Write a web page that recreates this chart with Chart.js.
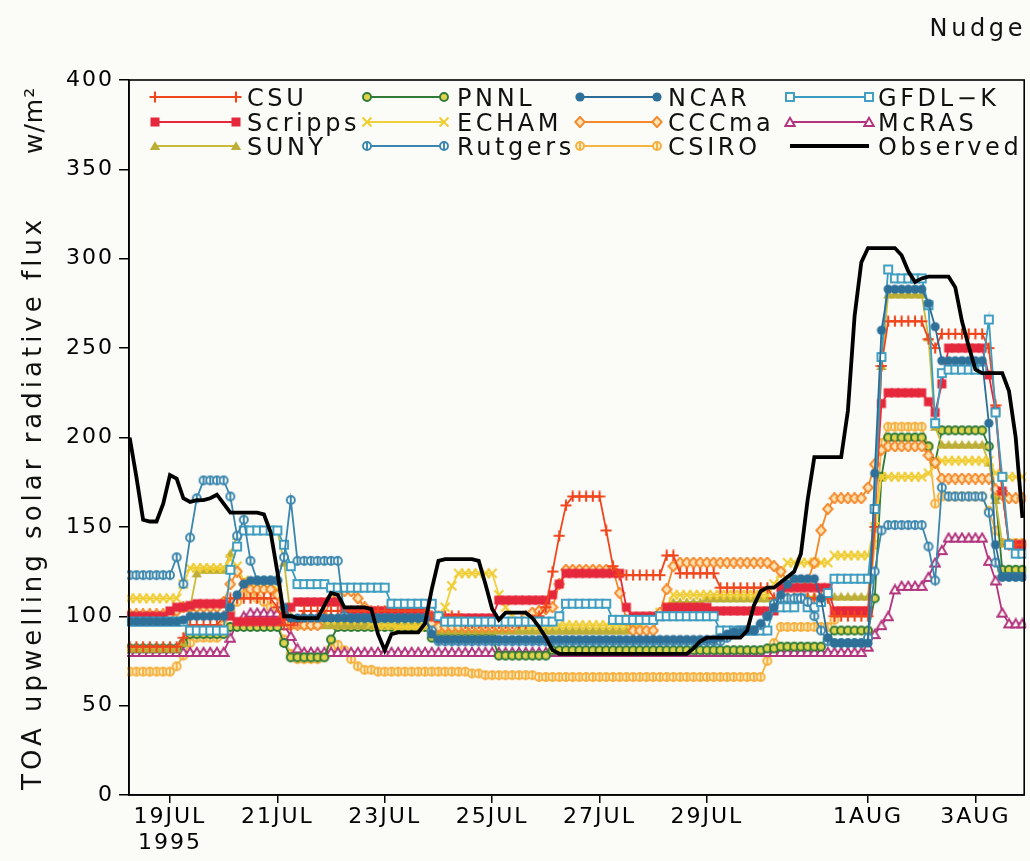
<!DOCTYPE html>
<html>
<head>
<meta charset="utf-8">
<script src="https://cdn.jsdelivr.net/npm/chart.js@4.4.1/dist/chart.umd.min.js"></script>
<style>
  html, body { margin: 0; padding: 0; background: #fbfbf7; }
  #wrap { width: 1030px; height: 861px; position: relative; }
</style>
</head>
<body>
<div id="wrap"><canvas id="chart" width="1030" height="861"></canvas></div>
<script>
// Time axis: hours relative to 19 JUL 1995 00Z, 3-hourly samples from 18 JUL 06Z
const startHour = -18;
const stepHours = 3;
const tickHours = [0, 48, 96, 144, 192, 240, 312, 360];
const tickLabels = [['19JUL', '1995'], '21JUL', '23JUL', '25JUL', '27JUL', '29JUL', '1AUG', '3AUG'];

// TOA upwelling solar radiative flux (W/m2), 3-hourly
const observed = [
  200,178,154,153,153,163,179,177,166,164,
  165,165,166,168,163,158,158,158,158,158,
  157,147,125,100,100,99,99,99,99,106,
  113,112,105,105,105,105,104,90,81,90,
  91,91,91,91,96,115,131,132,132,132,
  132,132,131,118,104,98,102,102,102,102,
  99,94,88,81,79,79,79,79,79,79,
  79,79,79,79,79,79,79,79,79,79,
  79,79,79,79,82,86,88,88,88,88,
  88,88,92,106,114,116,116,119,122,125,
  135,165,189,189,189,189,189,215,268,298,
  306,306,306,306,306,302,293,287,289,290,
  290,290,290,284,265,251,238,236,236,236,
  236,226,200,155];

const csu = [
  83,83,83,83,83,83,83,83,88,95,
  95,95,95,95,100,110,110,110,110,110,
  110,110,105,95,95,97,103,103,103,103,
  103,103,103,103,103,103,103,103,103,103,
  103,103,103,103,103,100,100,100,100,100,
  96,96,96,96,96,96,96,96,96,96,
  98,100,105,125,145,162,167,167,167,167,
  167,148,128,123,123,123,123,123,123,123,
  134,134,124,124,124,124,124,124,116,116,
  116,116,116,116,116,116,110,110,110,110,
  110,110,110,110,110,100,100,100,100,100,
  100,150,240,265,265,265,265,265,265,255,
  250,258,258,258,258,258,258,258,250,218,
  170,140,140,140];

const scripps = [
  100,100,100,100,100,100,103,105,105,106,
  107,107,107,107,107,100,97,97,97,97,
  97,97,97,100,105,108,108,108,108,108,
  108,108,103,103,103,103,103,103,103,103,
  103,103,103,103,103,100,99,99,99,99,
  99,99,99,99,99,109,109,109,109,109,
  109,109,109,112,118,124,124,124,124,124,
  124,124,124,124,105,100,100,100,100,100,
  105,105,105,105,105,105,105,103,103,103,
  103,103,103,103,103,103,103,116,116,116,
  116,116,116,116,116,103,103,103,103,103,
  103,160,219,225,225,225,225,225,225,220,
  214,230,250,250,250,250,250,250,235,215,
  170,140,140,140];

const suny = [
  82,82,82,82,82,82,82,82,85,105,
  124,126,126,126,126,135,145,148,148,148,
  148,148,148,130,100,95,95,95,95,95,
  95,95,95,95,95,95,95,95,95,95,
  95,95,95,95,95,92,92,92,92,92,
  92,92,92,92,92,92,92,92,92,92,
  92,92,92,92,92,92,92,92,92,92,
  92,92,92,92,92,95,98,100,100,100,
  104,108,108,108,108,108,110,110,110,110,
  110,110,110,110,110,110,110,110,111,111,
  111,111,111,111,111,111,111,111,111,111,
  111,160,240,280,280,280,280,280,280,256,
  206,196,196,196,196,196,196,196,186,165,
  141,141,141,141];

const pnnl = [
  82,82,82,82,82,82,82,82,85,90,
  90,90,90,90,90,94,94,94,94,94,
  94,94,94,85,77,77,77,77,77,77,
  87,94,94,94,94,94,94,94,94,94,
  94,94,94,94,94,88,88,88,88,88,
  88,88,88,88,88,78,78,78,78,78,
  78,78,78,81,81,81,81,81,81,81,
  81,81,81,81,81,81,81,81,81,81,
  81,81,81,81,81,81,81,81,81,81,
  81,81,81,81,81,82,82,83,83,83,
  83,83,83,83,87,92,92,92,92,92,
  92,110,178,200,200,200,200,200,200,195,
  186,204,204,204,204,204,204,204,195,167,
  126,126,126,126];

const echam = [
  110,110,110,110,110,110,110,110,118,127,
  127,127,127,127,127,132,128,120,118,118,
  118,118,115,105,98,98,98,98,98,98,
  98,98,98,98,98,98,96,95,95,95,
  94,94,94,94,94,94,94,105,117,124,
  124,124,124,124,124,112,105,100,96,95,
  95,95,95,95,95,95,95,95,95,95,
  95,95,95,95,95,95,96,98,100,102,
  106,112,112,112,112,112,112,112,112,112,
  112,112,112,112,112,112,118,124,130,130,
  130,130,130,130,130,134,134,134,134,134,
  134,150,178,178,178,178,178,178,178,180,
  185,187,187,187,187,187,187,187,187,180,
  178,178,178,178];

const cccma = [
  101,101,101,101,101,101,101,103,105,105,
  105,105,105,105,108,118,125,118,115,115,
  115,115,112,100,95,95,95,95,95,100,
  110,114,114,114,110,105,100,100,100,100,
  100,100,100,100,100,96,94,94,94,94,
  94,94,94,94,94,94,94,94,96,100,
  102,103,104,105,118,126,126,126,126,126,
  126,126,126,113,98,92,92,92,92,102,
  115,128,130,130,130,130,130,130,130,130,
  130,130,130,130,130,130,128,125,120,118,
  118,120,130,148,160,166,166,166,166,166,
  172,185,193,195,195,195,195,195,195,190,
  186,177,177,177,177,177,177,177,177,171,
  168,166,166,166];

const csiro = [
  69,69,69,69,69,69,69,72,78,85,
  88,88,88,88,95,103,108,112,112,110,
  108,105,95,87,79,76,76,76,76,78,
  82,84,81,76,72,70,70,69,69,69,
  69,69,69,69,69,69,69,69,69,69,
  69,68,68,67,67,67,67,67,67,67,
  67,66,66,66,66,66,66,66,66,66,
  66,66,66,66,66,66,66,66,66,66,
  66,66,66,66,66,66,66,66,66,66,
  66,66,66,66,66,75,85,94,94,94,
  94,94,94,94,94,98,103,103,103,103,
  103,140,197,206,206,206,206,206,206,195,
  163,167,167,167,167,167,167,167,159,148,
  141,141,141,141];

const ncar = [
  97,97,97,97,97,97,97,97,98,100,
  100,100,100,100,100,105,112,118,120,120,
  120,120,120,105,99,99,99,99,99,99,
  99,99,99,99,99,99,99,99,99,99,
  99,99,99,99,99,90,87,87,87,87,
  87,87,87,87,87,87,87,87,87,87,
  87,87,87,87,87,87,87,87,87,87,
  87,87,87,87,87,87,87,87,87,87,
  87,87,87,87,87,87,87,87,88,90,
  91,91,92,92,96,100,105,112,118,121,
  121,121,121,110,88,85,85,85,85,85,
  85,180,260,283,283,283,283,283,283,275,
  262,243,243,243,243,243,243,243,208,140,
  122,122,122,122];

const rutgers = [
  123,123,123,123,123,123,123,133,118,144,
  166,176,176,176,176,167,145,154,131,120,
  120,120,120,133,165,131,131,131,131,131,
  131,131,100,99,99,99,99,99,99,99,
  99,99,99,99,99,92,86,86,86,86,
  86,86,86,86,86,86,86,86,86,86,
  86,86,86,86,86,86,86,86,86,86,
  86,86,86,86,86,86,86,86,86,86,
  86,86,86,86,86,86,86,86,86,88,
  91,92,92,92,95,100,107,110,110,110,
  110,108,100,92,86,85,85,85,85,85,
  88,125,148,151,151,151,151,151,151,139,
  120,172,167,167,167,167,167,167,158,130,
  122,122,122,122];

const gfdlk = [
  97,97,97,97,97,97,97,97,97,92,
  92,92,92,92,92,126,139,148,148,148,
  148,148,148,140,128,118,118,118,118,118,
  116,116,116,116,116,116,116,116,116,107,
  107,107,107,107,107,107,100,97,97,97,
  97,97,97,97,97,97,97,97,97,97,
  97,97,97,97,100,107,107,107,107,107,
  107,107,98,98,98,98,98,98,98,100,
  100,100,100,100,100,100,100,100,92,92,
  92,92,92,92,92,92,105,105,105,105,
  110,105,105,108,113,121,121,121,121,121,
  121,160,245,294,289,289,289,289,289,274,
  208,236,238,238,238,238,238,238,266,214,
  178,140,135,135];

const mcras = [
  80,80,80,80,80,80,80,80,80,80,
  80,80,80,80,80,88,96,100,102,102,
  102,102,102,95,89,82,80,80,80,80,
  80,80,80,80,80,80,80,80,80,80,
  80,80,80,80,80,80,80,80,80,80,
  80,80,80,80,80,80,80,80,80,80,
  80,80,80,80,80,80,80,80,80,80,
  80,80,80,80,80,80,80,80,80,80,
  80,80,80,80,80,80,80,80,80,80,
  80,80,80,80,80,80,80,80,80,80,
  80,80,80,80,80,80,80,80,80,80,
  83,90,95,100,115,117,117,117,117,122,
  130,137,144,144,144,144,144,144,131,120,
  102,96,96,96];

// ---- marker glyphs drawn into small canvases (used by the plot and the key)
function glyph(kind, stroke, fill) {
  const s = 12, m = s / 2;
  const c = document.createElement('canvas');
  c.width = s; c.height = s;
  const g = c.getContext('2d');
  g.lineWidth = 1.9; g.strokeStyle = stroke; g.fillStyle = fill || stroke;
  g.beginPath();
  switch (kind) {
    case 'plus':
      g.lineWidth = 2.1;
      g.moveTo(m, 0.5); g.lineTo(m, s - 0.5); g.moveTo(0.5, m); g.lineTo(s - 0.5, m); g.stroke(); break;
    case 'x':
      g.moveTo(1.5, 1.5); g.lineTo(s - 1.5, s - 1.5); g.moveTo(s - 1.5, 1.5); g.lineTo(1.5, s - 1.5); g.stroke(); break;
    case 'sqFill':
      g.fillRect(1.5, 1.5, s - 3, s - 3); break;
    case 'sqOpen':
      g.fillStyle = fill; g.fillRect(2, 2, s - 4, s - 4); g.strokeRect(2, 2, s - 4, s - 4); break;
    case 'triFill':
      g.moveTo(m, 1.2); g.lineTo(s - 0.8, s - 2); g.lineTo(0.8, s - 2); g.closePath(); g.fill(); break;
    case 'triOpen':
      g.moveTo(m, 1.8); g.lineTo(s - 1.3, s - 2); g.lineTo(1.3, s - 2); g.closePath(); g.fill(); g.stroke(); break;
    case 'dot':
      g.arc(m, m, 4.6, 0, Math.PI * 2); g.fill(); break;
    case 'ring':
      g.arc(m, m, 4, 0, Math.PI * 2); g.fill(); g.stroke(); break;
    case 'theta':
      g.arc(m, m, 4, 0, Math.PI * 2); g.fill(); g.stroke();
      g.beginPath(); g.moveTo(m, m - 4); g.lineTo(m, m + 4); g.stroke(); break;
    case 'diamond':
      g.moveTo(m, 0.8); g.lineTo(s - 1.2, m); g.lineTo(m, s - 0.8); g.lineTo(1.2, m); g.closePath(); g.fill(); g.stroke(); break;
  }
  return c;
}

const series = [
  { label: 'CSU',      data: csu,      color: '#f0461e', mark: glyph('plus', '#f0461e') },
  { label: 'Scripps',  data: scripps,  color: '#e6283c', mark: glyph('sqFill', '#e6283c') },
  { label: 'SUNY',     data: suny,     color: '#c9bc3c', mark: glyph('triFill', '#bcae36') },
  { label: 'PNNL',     data: pnnl,     color: '#2e7a36', mark: glyph('ring', '#2e7a36', '#e0d24a') },
  { label: 'ECHAM',    data: echam,    color: '#f0d03c', mark: glyph('x', '#f0cc30') },
  { label: 'Rutgers',  data: rutgers,  color: '#3a86ae', mark: glyph('theta', '#3a86ae', '#fbfbf7') },
  { label: 'NCAR',     data: ncar,     color: '#2d6c96', mark: glyph('dot', '#2f7099') },
  { label: 'CCCma',    data: cccma,    color: '#f5882a', mark: glyph('diamond', '#f5882a', '#fbe3b4') },
  { label: 'CSIRO',    data: csiro,    color: '#f6b444', mark: glyph('theta', '#f6b040', '#fbf0c8') },
  { label: 'GFDL\u2212K', data: gfdlk, color: '#3a9cc0', mark: glyph('sqOpen', '#3a9cc0', '#fbfbf7') },
  { label: 'McRAS',    data: mcras,    color: '#b3347e', mark: glyph('triOpen', '#b3347e', '#fbfbf7') },
  { label: 'Observed', data: observed, color: '#000000', mark: null }
];

// drawing order (first drawn on top)
const stackOrder = ['Observed', 'NCAR', 'Rutgers', 'GFDL\u2212K', 'CSU', 'Scripps', 'CCCma', 'ECHAM', 'SUNY', 'PNNL', 'McRAS', 'CSIRO'];

const datasets = stackOrder.map(name => {
  const s = series.find(d => d.label === name);
  const obs = s.label === 'Observed';
  return {
    label: s.label,
    data: s.data.map((v, i) => ({ x: startHour + i * stepHours, y: v })),
    borderColor: s.color,
    backgroundColor: s.color,
    borderWidth: obs ? 3.8 : 1.8,
    pointStyle: obs ? false : s.mark,
    pointRadius: obs ? 0 : 4,
    tension: 0,
    clip: 2
  };
});

const FONT = '"DejaVu Sans", "Liberation Sans", sans-serif';

const decor = {
  id: 'decor',
  beforeDraw(chart) {
    chart.ctx.letterSpacing = '2px';
  },
  afterDraw(chart) {
    const ctx = chart.ctx, a = chart.chartArea;
    ctx.save();
    // plot frame
    ctx.strokeStyle = '#000'; ctx.lineWidth = 1.6;
    ctx.strokeRect(a.left, a.top, a.right - a.left, a.bottom - a.top);

    // key: 4 columns x 3 rows
    const colLine = [[155, 236], [367, 444], [580, 657], [790, 869]];
    const colText = [247, 457, 668, 878];
    const rowY = [97, 122, 146];
    ctx.font = '24px ' + FONT;
    ctx.letterSpacing = '3.6px';
    ctx.textAlign = 'left'; ctx.textBaseline = 'alphabetic';
    series.forEach((s, i) => {
      const c = Math.floor(i / 3), r = i % 3;
      const y = rowY[r], [x1, x2] = colLine[c];
      ctx.strokeStyle = s.color;
      ctx.lineWidth = s.label === 'Observed' ? 4 : 1.8;
      ctx.beginPath(); ctx.moveTo(x1, y); ctx.lineTo(x2, y); ctx.stroke();
      if (s.mark) {
        ctx.drawImage(s.mark, x1 - s.mark.width / 2, y - s.mark.height / 2);
        ctx.drawImage(s.mark, x2 - s.mark.width / 2, y - s.mark.height / 2);
      }
      ctx.fillStyle = '#111';
      ctx.fillText(s.label, colText[c], y + 8.8);
    });

    // run name, top right
    ctx.textAlign = 'right';
    ctx.fillText('Nudge', 1026, 36);

    // vertical axis title and units
    ctx.save();
    ctx.translate(41, 790);
    ctx.rotate(-Math.PI / 2);
    ctx.textAlign = 'left';
    ctx.font = '26px ' + FONT;
    ctx.letterSpacing = '4px';
    ctx.fillText('TOA upwelling solar radiative flux', 0, 0);
    ctx.restore();
    ctx.save();
    ctx.translate(42, 154);
    ctx.rotate(-Math.PI / 2);
    ctx.textAlign = 'left';
    ctx.font = '25px ' + FONT;
    ctx.letterSpacing = '1px';
    ctx.fillText('w/m\u00b2', 0, 0);
    ctx.restore();

    ctx.restore();
  }
};

Chart.defaults.font.family = FONT;
Chart.defaults.color = '#000';

new Chart(document.getElementById('chart'), {
  type: 'line',
  data: { datasets },
  options: {
    responsive: false,
    animation: false,
    devicePixelRatio: 1,
    events: [],
    layout: { padding: { top: 80, right: 4, left: 0, bottom: 0 } },
    plugins: { legend: { display: false }, tooltip: { enabled: false } },
    scales: {
      x: {
        type: 'linear',
        min: -18.3,
        max: 381.8,
        afterBuildTicks: s => { s.ticks = tickHours.map(v => ({ value: v })); },
        afterFit: s => { s.height = 66; },
        ticks: {
          autoSkip: false, maxRotation: 0, padding: 1, color: '#000',
          font: { size: 22 },
          callback: v => tickLabels[tickHours.indexOf(v)]
        },
        grid: { drawOnChartArea: false, drawTicks: true, tickLength: 8, color: '#000', lineWidth: 1.5 },
        border: { display: true, color: '#000', width: 1.5 }
      },
      y: {
        min: 0,
        max: 400,
        afterFit: s => { s.width = 129; },
        ticks: { stepSize: 50, padding: 5, color: '#000', font: { size: 22 } },
        grid: { drawOnChartArea: false, drawTicks: true, tickLength: 10, color: '#000', lineWidth: 1.5 },
        border: { display: true, color: '#000', width: 1.5 }
      }
    }
  },
  plugins: [decor]
});
</script>
</body>
</html>
